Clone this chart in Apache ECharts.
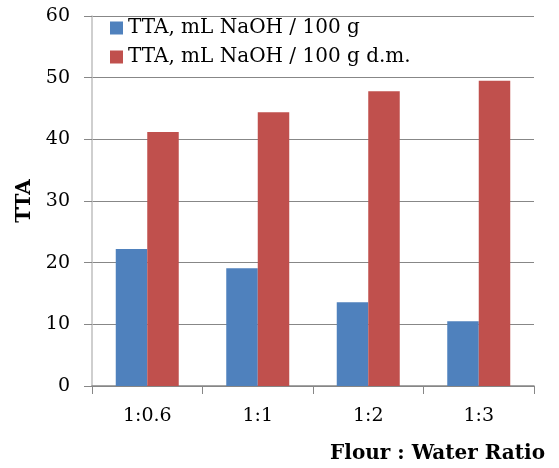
<!DOCTYPE html>
<html>
<head>
<meta charset="utf-8">
<script src="https://cdn.jsdelivr.net/npm/echarts@6/dist/echarts.min.js"></script>
<style>html,body{margin:0;padding:0;background:#fff}#c{width:559px;height:468px}</style>
</head>
<body>
<div id="c"></div>
<script>
const categories = ['1:0.6', '1:1', '1:2', '1:3'];
const seriesNames = ['TTA, mL NaOH / 100 g', 'TTA, mL NaOH / 100 g d.m.'];
const ttaFresh = [22.2, 19.1, 13.6, 10.5];
const ttaDM = [41.2, 44.4, 47.8, 49.5];
const yTicks = [0, 10, 20, 30, 40, 50, 60];

const serif = "'DejaVu Serif', 'Liberation Serif', serif";
const chart = echarts.init(document.getElementById('c'));
chart.setOption({
  animation: false,
  backgroundColor: '#ffffff',
  title: {
    text: 'Flour : Water Ratio',
    right: 14,
    top: 444,
    padding: 0,
    textStyle: { fontFamily: serif, fontSize: 20, fontWeight: 'bold', color: '#000' }
  },
  legend: {
    orient: 'vertical',
    left: 110,
    top: 18,
    padding: 0,
    itemWidth: 13,
    itemHeight: 13,
    itemGap: 9,
    icon: 'rect',
    textStyle: { fontFamily: serif, fontSize: 20, color: '#000' },
    data: seriesNames
  },
  grid: { left: 92, right: 25, top: 16, bottom: 82 },
  xAxis: {
    type: 'category',
    data: categories,
    boundaryGap: true,
    axisLine: { lineStyle: { color: '#878787', width: 1.5 } },
    axisTick: { show: true, length: 8, lineStyle: { color: '#878787' } },
    axisLabel: { fontFamily: serif, fontSize: 19, color: '#000', margin: 21 }
  },
  yAxis: {
    type: 'value',
    min: 0, max: 60, interval: 10,
    name: 'TTA',
    nameLocation: 'middle',
    nameGap: 57,
    nameTextStyle: { fontFamily: serif, fontSize: 20, fontWeight: 'bold', color: '#000' },
    axisLine: { show: true, lineStyle: { color: '#BFBFBF', width: 1.5 } },
    axisTick: { show: true, length: 8, lineStyle: { color: '#878787' } },
    axisLabel: {
      fontFamily: serif, fontSize: 19, color: '#000', margin: 22,
      formatter: v => (yTicks.indexOf(v) >= 0 ? String(v) : '')
    },
    splitLine: { show: true, lineStyle: { color: '#878787', width: 1 } }
  },
  series: [
    { name: seriesNames[0], type: 'bar', data: ttaFresh, itemStyle: { color: '#4F81BD' }, barGap: '0%', barCategoryGap: '43%' },
    { name: seriesNames[1], type: 'bar', data: ttaDM, itemStyle: { color: '#C0504D' }, barGap: '0%', barCategoryGap: '43%' }
  ]
});
</script>
</body>
</html>
